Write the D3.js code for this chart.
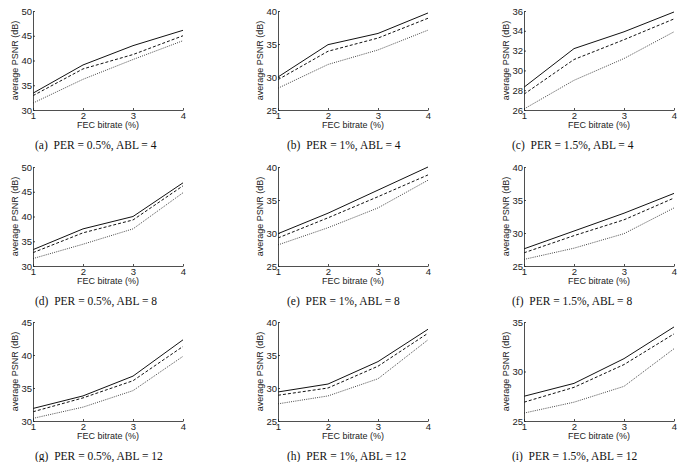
<!DOCTYPE html>
<html>
<head>
<meta charset="utf-8">
<script src="https://cdn.jsdelivr.net/npm/d3@7"></script>
<style>
  body { margin: 0; background: #fff; }
  .tick text { font-family: "Liberation Sans", Arial, sans-serif; font-size: 9.5px; fill: #222; }
  .lab { font-family: "Liberation Sans", Arial, sans-serif; font-size: 9px; fill: #222; }
  .cap { font-family: "Liberation Serif", "Times New Roman", serif; font-size: 11.5px; fill: #111; }
</style>
</head>
<body>
<script>
// FEC bitrate (%) on x, average PSNR (dB) on y, three curves per panel
var fecBitrate = [1, 2, 3, 4];

var captions = [
    "(a)\u00a0 PER = 0.5%, ABL = 4", "(b)\u00a0 PER = 1%, ABL = 4", "(c)\u00a0 PER = 1.5%, ABL = 4",
    "(d)\u00a0 PER = 0.5%, ABL = 8", "(e)\u00a0 PER = 1%, ABL = 8", "(f)\u00a0 PER = 1.5%, ABL = 8",
    "(g)\u00a0 PER = 0.5%, ABL = 12", "(h)\u00a0 PER = 1%, ABL = 12", "(i)\u00a0 PER = 1.5%, ABL = 12"
];

var yDomains = [[30, 50], [25, 40], [26, 36], [30, 50], [25, 40], [25, 40], [30, 45], [25, 40], [25, 35]];
var yTickStep = [5, 5, 2, 5, 5, 5, 5, 5, 5];

var solidPSNR = [
    [33.4, 39.1, 43.0, 46.1],
    [30.0, 34.9, 36.6, 39.7],
    [28.3, 32.2, 33.9, 35.9],
    [33.3, 37.5, 40.0, 46.8],
    [29.9, 33.0, 36.5, 40.0],
    [27.6, 30.3, 33.0, 36.0],
    [31.9, 33.8, 36.8, 42.3],
    [29.4, 30.6, 34.0, 38.9],
    [27.5, 28.8, 31.3, 34.5]
];
var dashedPSNR = [
    [32.9, 38.3, 41.2, 45.0],
    [29.6, 33.9, 35.9, 38.9],
    [27.6, 31.1, 33.1, 35.2],
    [32.7, 36.7, 39.3, 46.2],
    [29.25, 32.3, 35.5, 38.8],
    [27.0, 29.6, 32.0, 35.3],
    [31.4, 33.5, 36.1, 41.3],
    [28.9, 30.0, 33.3, 38.3],
    [26.9, 28.4, 30.7, 33.8]
];
var dottedPSNR = [
    [31.4, 36.2, 40.2, 44.0],
    [28.3, 31.9, 34.1, 37.1],
    [26.1, 29.0, 31.2, 33.9],
    [31.5, 34.4, 37.5, 44.8],
    [28.2, 30.8, 33.8, 38.0],
    [26.0, 27.7, 29.9, 33.8],
    [30.4, 32.1, 34.6, 39.8],
    [27.6, 28.8, 31.4, 37.3],
    [25.8, 26.9, 28.5, 32.3]
];

var colX = [33, 278, 524],
    rowY = [11, 167, 322],
    captionX = [35, 287, 512],
    plotW = 150,
    plotH = 99;

var svg = d3.select("body").append("svg")
    .attr("width", 681)
    .attr("height", 462);

var styles = [
    { data: solidPSNR, dash: null, color: "#111" },
    { data: dashedPSNR, dash: "3,2", color: "#111" },
    { data: dottedPSNR, dash: "1,1.2", color: "#444" }
];

captions.forEach(function (cap, i) {
    var col = i % 3, row = Math.floor(i / 3);
    var g = svg.append("g")
        .attr("transform", "translate(" + colX[col] + "," + rowY[row] + ")");

    var x = d3.scaleLinear().domain([1, 4]).range([0, plotW]);
    var y = d3.scaleLinear().domain(yDomains[i]).range([plotH, 0]);

    var yTicks = d3.range(yDomains[i][0], yDomains[i][1] + 0.001, yTickStep[i]);

    var line = d3.line()
        .x(function (d, j) { return x(fecBitrate[j]); })
        .y(function (d) { return y(d); });

    styles.forEach(function (s) {
        g.append("path")
            .datum(s.data[i])
            .attr("d", line)
            .attr("fill", "none")
            .attr("stroke", s.color)
            .attr("stroke-width", 1)
            .attr("stroke-dasharray", s.dash);
    });

    var xAxis = g.append("g")
        .attr("transform", "translate(0," + plotH + ")")
        .call(d3.axisBottom(x).tickValues(fecBitrate).tickFormat(d3.format("d"))
            .tickSizeInner(-2).tickSizeOuter(0).tickPadding(2));
    var yAxis = g.append("g")
        .call(d3.axisLeft(y).tickValues(yTicks).tickFormat(d3.format("d"))
            .tickSizeInner(-2).tickSizeOuter(0).tickPadding(1));

    [xAxis, yAxis].forEach(function (a) {
        a.select(".domain").attr("stroke", "#222").attr("stroke-width", 0.8);
        a.selectAll(".tick line").attr("stroke", "#222").attr("stroke-width", 0.8);
    });

    g.append("text")
        .attr("class", "lab")
        .attr("x", plotW / 2)
        .attr("y", plotH + 18)
        .attr("text-anchor", "middle")
        .text("FEC bitrate (%)");

    g.append("text")
        .attr("class", "lab")
        .attr("transform", "translate(-15," + (plotH / 2) + ")rotate(-90)")
        .attr("text-anchor", "middle")
        .text("average PSNR (dB)");

    svg.append("text")
        .attr("class", "cap")
        .attr("x", captionX[col])
        .attr("y", rowY[row] + plotH + 39)
        .text(cap);
});
</script>
</body>
</html>
